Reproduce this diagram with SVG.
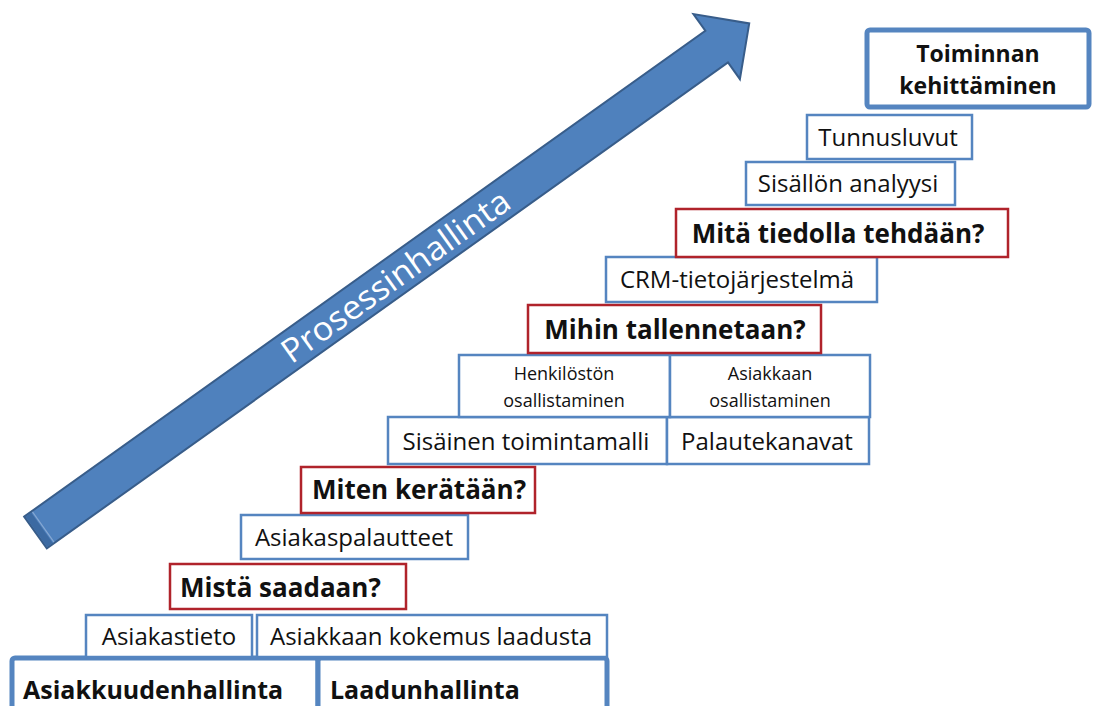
<svg xmlns="http://www.w3.org/2000/svg" width="1095" height="706" viewBox="0 0 1095 706">
<style>
.b{fill:#fff;stroke:#5585C0;stroke-width:2.5}
.r{fill:#fff;stroke:#B0232B;stroke-width:2.5}
.k{fill:#fff;stroke:#5585C0;stroke-width:5}
.t{font-family:"Open Sans","Liberation Sans",sans-serif;font-size:24px;fill:#111;text-anchor:middle}
.s{font-family:"Open Sans","Liberation Sans",sans-serif;font-size:18px;fill:#111;text-anchor:middle}
.q{font-family:"Open Sans","Liberation Sans",sans-serif;font-size:26px;font-weight:bold;fill:#111;text-anchor:middle}
.m{font-family:"Open Sans","Liberation Sans",sans-serif;font-size:25px;font-weight:bold;fill:#111}
.h{font-family:"Open Sans","Liberation Sans",sans-serif;font-size:23px;font-weight:bold;fill:#111;text-anchor:middle}
</style>
<g id="arrow" transform="translate(35.5,532.5) rotate(-35.5)">
<path d="M0,-19.5 L836.7,-19.5 L836.7,-40 L876.7,0 L836.7,40 L836.7,19.5 L0,19.5 Z" fill="#4F81BD" stroke="#385D8A" stroke-width="2"/>
<rect x="1" y="-18.5" width="7" height="37" fill="#3C6AA2"/>
<line x1="9.5" y1="-18.5" x2="9.5" y2="18.5" stroke="#86A8D3" stroke-width="1.2"/>
<text x="442" y="12" font-family="'Open Sans','Liberation Sans',sans-serif" font-size="33" fill="#fff" text-anchor="middle" textLength="272" lengthAdjust="spacingAndGlyphs">Prosessinhallinta</text>
</g>
<g id="n-asiakkuudenhallinta"><rect class="k" x="12" y="658" width="306" height="60" rx="3"/><text class="m" x="23" y="699">Asiakkuudenhallinta</text></g>
<g id="n-laadunhallinta"><rect class="k" x="318" y="658" width="289" height="60" rx="3"/><text class="m" x="330" y="699">Laadunhallinta</text></g>
<g id="n-asiakastieto"><rect class="b" x="86" y="615" width="166" height="42"/><text class="t" x="169" y="645">Asiakastieto</text></g>
<g id="n-kokemus"><rect class="b" x="257" y="615" width="350" height="42"/><text class="t" x="431" y="645">Asiakkaan kokemus laadusta</text></g>
<g id="n-mista"><rect class="r" x="170" y="564" width="236" height="45"/><text class="m" x="180" y="597" style="font-size:26px">Mistä saadaan?</text></g>
<g id="n-asiakaspalautteet"><rect class="b" x="241" y="515" width="227" height="44"/><text class="t" x="354" y="546">Asiakaspalautteet</text></g>
<g id="n-miten"><rect class="r" x="301" y="467" width="234" height="46"/><text class="q" x="419" y="499">Miten kerätään?</text></g>
<g id="n-sisainen"><rect class="b" x="388" y="417" width="279" height="47"/><text class="t" x="526" y="450">Sisäinen toimintamalli</text></g>
<g id="n-palautekanavat"><rect class="b" x="667" y="417" width="202" height="47"/><text class="t" x="767" y="450">Palautekanavat</text></g>
<g id="n-henkilosto"><rect class="b" x="459" y="355" width="211" height="62"/><text class="s" x="564" y="380">Henkilöstön</text><text class="s" x="564" y="407">osallistaminen</text></g>
<g id="n-asiakas-osall"><rect class="b" x="670" y="355" width="200" height="62"/><text class="s" x="770" y="380">Asiakkaan</text><text class="s" x="770" y="407">osallistaminen</text></g>
<g id="n-mihin"><rect class="r" x="528" y="305" width="293" height="48"/><text class="q" x="675" y="339">Mihin tallennetaan?</text></g>
<g id="n-crm"><rect class="b" x="606" y="257" width="271" height="45"/><text class="t" x="737" y="288">CRM-tietojärjestelmä</text></g>
<g id="n-mita"><rect class="r" x="676" y="209" width="332" height="48"/><text class="q" x="838" y="243">Mitä tiedolla tehdään?</text></g>
<g id="n-sisallon"><rect class="b" x="746" y="162" width="209" height="43"/><text class="t" x="848" y="192">Sisällön analyysi</text></g>
<g id="n-tunnusluvut"><rect class="b" x="807" y="115" width="165" height="44"/><text class="t" x="888" y="146">Tunnusluvut</text></g>
<g id="n-toiminnan"><rect class="k" x="867" y="30" width="222" height="77" rx="3"/><text class="h" x="978" y="62">Toiminnan</text><text class="h" x="978" y="94">kehittäminen</text></g>
<g id="connectors"></g>
</svg>
